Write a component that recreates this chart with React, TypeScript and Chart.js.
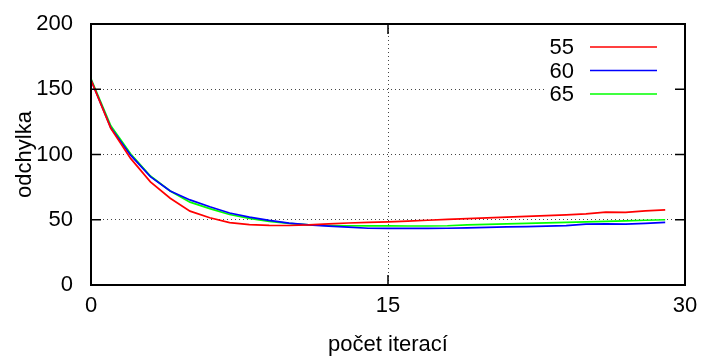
import React, { useEffect, useRef } from "react";
import { Chart, registerables } from "chart.js";

Chart.register(...registerables);

const iterations = [0, 1, 2, 3, 4, 5, 6, 7, 8, 9, 10, 11, 12, 13, 14, 15, 16, 17, 18, 19, 20, 21, 22, 23, 24, 25, 26, 27, 28, 29];
const series55 = [157, 120, 97, 79, 66.5, 56.6, 51.5, 47.8, 46.2, 45.7, 45.6, 46, 46.8, 47.5, 48, 48.4, 49, 49.6, 50.3, 50.9, 51.5, 52, 52.6, 53.2, 53.8, 54.5, 55.8, 55.6, 56.8, 57.5];
const series60 = [157, 120.5, 99.5, 83, 72, 65.2, 60, 55.2, 52, 49.5, 47.4, 46, 45.1, 44.3, 43.5, 43.4, 43.4, 43.4, 43.5, 43.8, 44.2, 44.5, 44.8, 45.1, 45.5, 46.6, 46.9, 46.6, 47.2, 48];
const series65 = [158, 122, 100.5, 83.5, 72, 63.5, 58.5, 54, 51, 48.7, 47.2, 46.1, 45.6, 45.4, 45.3, 45.3, 45.2, 45.2, 45.4, 46, 46.5, 46.9, 47.2, 47.6, 48, 48.4, 48.8, 49.2, 49.6, 50];
const seriesLabels = ["55", "60", "65"];
const seriesColors = ["#ff0000", "#0000ff", "#00ff00"];
const xTitle = "počet iterací";
const yTitle = "odchylka";

const FONT = "'Liberation Sans', Arial, Helvetica, sans-serif";
const FS = 22;

const framePlugin = {
  id: "gnuFrame",
  afterDraw(chart: any) {
    const { ctx, chartArea } = chart;
    const { left, right, top, bottom } = chartArea;
    const xs = chart.scales.x;
    const ys = chart.scales.y;
    ctx.save();
    // legend (opaque key)
    ctx.fillStyle = "#ffffff";
    ctx.fillRect(546, 30, 126, 76);
    ctx.font = FS + "px " + FONT;
    ctx.textAlign = "right";
    ctx.textBaseline = "middle";
    chart.data.datasets.forEach((ds: any, i: number) => {
      const y = 47 + i * 23.5;
      ctx.fillStyle = "#000000";
      ctx.fillText(ds.label, 574, y + 1);
      ctx.strokeStyle = ds.borderColor;
      ctx.lineWidth = 1.7;
      ctx.beginPath();
      ctx.moveTo(590, y);
      ctx.lineTo(657, y);
      ctx.stroke();
    });
    // tick marks (inward, mirrored)
    ctx.strokeStyle = "#000000";
    ctx.lineWidth = 1.5;
    const tl = 10;
    ys.ticks.forEach((t: any) => {
      const y = ys.getPixelForValue(t.value);
      ctx.beginPath();
      ctx.moveTo(left, y);
      ctx.lineTo(left + tl, y);
      ctx.moveTo(right, y);
      ctx.lineTo(right - tl, y);
      ctx.stroke();
    });
    xs.ticks.forEach((t: any) => {
      const x = xs.getPixelForValue(t.value);
      ctx.beginPath();
      ctx.moveTo(x, bottom);
      ctx.lineTo(x, bottom - tl);
      ctx.moveTo(x, top);
      ctx.lineTo(x, top + tl);
      ctx.stroke();
    });
    // frame
    ctx.lineWidth = 2;
    ctx.strokeRect(left, top, right - left, bottom - top);
    ctx.restore();
  },
};

const gridColor = (edgeA: number, edgeB: number) => (c: any) =>
  c.tick && (c.tick.value === edgeA || c.tick.value === edgeB) ? "rgba(0,0,0,0)" : "#444444";

export default function App() {
  const ref = useRef<HTMLCanvasElement | null>(null);
  useEffect(() => {
    if (!ref.current) return;
    const allSeries = [series55, series60, series65];
    const chart = new Chart(ref.current, {
      type: "line",
      data: {
        datasets: allSeries.map((s, i) => ({
          label: seriesLabels[i],
          data: iterations.map((x, j) => ({ x, y: s[j] })),
          borderColor: seriesColors[i],
          backgroundColor: seriesColors[i],
          borderWidth: 1.7,
          pointRadius: 0,
          tension: 0,
          fill: false,
        })),
      },
      options: {
        responsive: false,
        animation: false,
        layout: { padding: { left: 0, right: 19, top: 24, bottom: 0 } },
        plugins: { legend: { display: false }, tooltip: { enabled: false } },
        scales: {
          x: {
            type: "linear",
            min: 0,
            max: 30,
            afterFit: (s: any) => { s.height = 71; s.paddingLeft = 0; s.paddingRight = 0; },
            ticks: { stepSize: 15, color: "#000", padding: 8, font: { family: FONT, size: FS }, maxRotation: 0 },
            grid: { drawTicks: false, color: gridColor(0, 30), lineWidth: 1 },
            border: { display: false, dash: [1, 3] },
            title: { display: true, text: xTitle, color: "#000", font: { family: FONT, size: FS, lineHeight: 1 }, padding: { top: 0, bottom: 0 } },
          },
          y: {
            type: "linear",
            min: 0,
            max: 200,
            afterFit: (s: any) => { s.width = 91; s.paddingTop = 0; s.paddingBottom = 0; },
            ticks: { stepSize: 50, color: "#000", padding: 18, font: { family: FONT, size: FS } },
            grid: { drawTicks: false, color: gridColor(0, 200), lineWidth: 1 },
            border: { display: false, dash: [1, 3] },
            title: { display: true, text: yTitle, color: "#000", font: { family: FONT, size: FS, lineHeight: 1.2 }, padding: { top: 12, bottom: 0 } },
          },
        },
      },
      plugins: [framePlugin],
    } as any);
    return () => chart.destroy();
  }, []);
  return (
    <div style={{ position: "absolute", left: 0, top: 0, width: 704, height: 356, background: "#fff" }}>
      <canvas ref={ref} width={704} height={356} style={{ display: "block", width: 704, height: 356 }} />
    </div>
  );
}
